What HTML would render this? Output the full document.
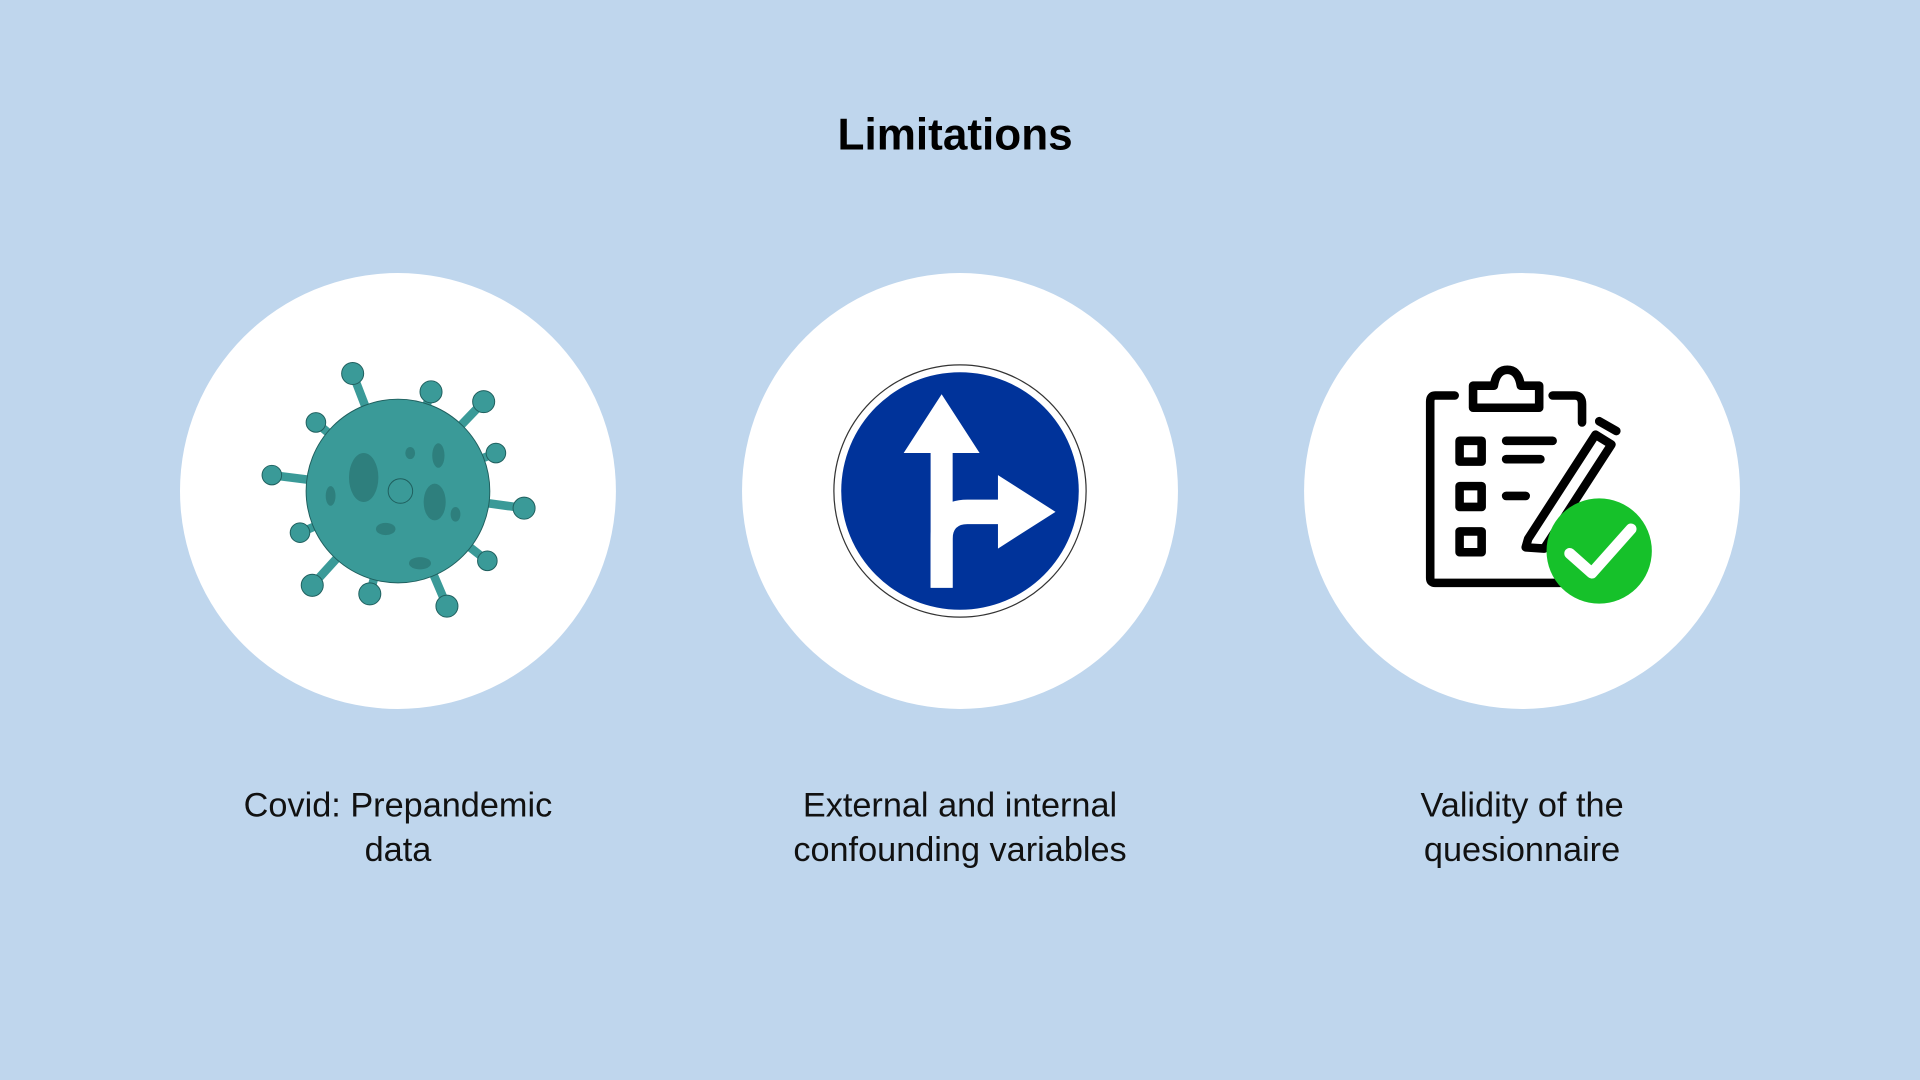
<!DOCTYPE html>
<html><head><meta charset="utf-8"><style>
html,body{margin:0;padding:0;width:1920px;height:1080px;overflow:hidden;background:#bfd6ed}
svg{display:block}
text{font-family:"Liberation Sans",sans-serif}
</style></head><body>
<svg width="1920" height="1080" viewBox="0 0 1568 882">
<rect width="1568" height="882" fill="#bfd6ed"/>
<text x="780" y="122" text-anchor="middle" font-size="36" font-weight="bold" fill="#000">Limitations</text>

<circle cx="325" cy="401" r="178" fill="#fff"/>
<circle cx="784" cy="401" r="178" fill="#fff"/>
<circle cx="1243" cy="401" r="178" fill="#fff"/>

<g fill="#3a9a98" stroke="#1f5f5e" stroke-width="0.8">
  <g stroke-width="7" stroke="#3a9a98">
    <line x1="325" y1="401" x2="288" y2="305"/><line x1="325" y1="401" x2="352" y2="320"/>
    <line x1="325" y1="401" x2="395" y2="328"/><line x1="325" y1="401" x2="405" y2="370"/>
    <line x1="325" y1="401" x2="428" y2="415"/><line x1="325" y1="401" x2="398" y2="458"/>
    <line x1="325" y1="401" x2="365" y2="495"/><line x1="325" y1="401" x2="302" y2="485"/>
    <line x1="325" y1="401" x2="255" y2="478"/><line x1="325" y1="401" x2="245" y2="435"/>
    <line x1="325" y1="401" x2="222" y2="388"/><line x1="325" y1="401" x2="258" y2="345"/>
  </g>
  <circle cx="288" cy="305" r="9"/><circle cx="352" cy="320" r="9"/><circle cx="395" cy="328" r="9"/>
  <circle cx="405" cy="370" r="8"/><circle cx="428" cy="415" r="9"/><circle cx="398" cy="458" r="8"/>
  <circle cx="365" cy="495" r="9"/><circle cx="302" cy="485" r="9"/><circle cx="255" cy="478" r="9"/>
  <circle cx="245" cy="435" r="8"/><circle cx="222" cy="388" r="8"/><circle cx="258" cy="345" r="8"/>
  <circle cx="325" cy="401" r="75"/>
  <g fill="#2e7f7d" stroke="none">
    <ellipse cx="297" cy="390" rx="12" ry="20"/><ellipse cx="355" cy="410" rx="9" ry="15"/>
    <ellipse cx="358" cy="372" rx="5" ry="10"/><ellipse cx="315" cy="432" rx="8" ry="5"/>
    <ellipse cx="343" cy="460" rx="9" ry="5"/><ellipse cx="270" cy="405" rx="4" ry="8"/>
    <ellipse cx="372" cy="420" rx="4" ry="6"/><ellipse cx="335" cy="370" rx="4" ry="5"/>
  </g>
  <circle cx="327" cy="401" r="10" fill="none" stroke="#1f5f5e"/>
</g>

<g>
  <circle cx="784" cy="401" r="103" fill="#fff" stroke="#333" stroke-width="1"/>
  <circle cx="784" cy="401" r="97" fill="#00339a"/>
  <path d="M760 480 V370 H738 L769 322 L800 370 H778 V480 Z" fill="#fff"/>
  <path d="M760 480 V440 Q760 408 790 408 H815 V388 L862 418 L815 448 V428 H790 Q778 428 778 440 V480 Z" fill="#fff"/>
</g>

<g fill="none" stroke="#000" stroke-width="7" stroke-linejoin="round" stroke-linecap="round">
  <path d="M1188 323 H1172 Q1168 323 1168 328 V472 Q1168 476 1172 476 H1280"/>
  <path d="M1268 323 H1286 Q1292 323 1292 330 V345"/>
  <path d="M1203 333 V315 H1220 Q1222 302 1231 302 Q1240 302 1242 315 H1257 V333 Z"/>
  <rect x="1192" y="360" width="18" height="17"/>
  <rect x="1192" y="397" width="18" height="17"/>
  <rect x="1192" y="434" width="18" height="17"/>
  <line x1="1230" y1="360" x2="1268" y2="360"/><line x1="1230" y1="375" x2="1258" y2="375"/>
  <line x1="1230" y1="405" x2="1246" y2="405"/>
  <path d="M1248 440 L1303 355 L1316 363 L1261 448 L1246 447 Z"/>
  <line x1="1306" y1="344" x2="1320" y2="352"/>
  <circle cx="1306" cy="450" r="43" fill="#16c12a" stroke="none"/>
  <path d="M1282 452 L1300 468 L1332 432" stroke="#fff" stroke-width="9"/>
</g>

<g font-size="28" fill="#111" text-anchor="middle">
  <text x="325" y="667"><tspan x="325">Covid: Prepandemic</tspan><tspan x="325" dy="36">data</tspan></text>
  <text x="784" y="667"><tspan x="784">External and internal</tspan><tspan x="784" dy="36">confounding variables</tspan></text>
  <text x="1243" y="667"><tspan x="1243">Validity of the</tspan><tspan x="1243" dy="36">quesionnaire</tspan></text>
</g>
</svg>
</body></html>
